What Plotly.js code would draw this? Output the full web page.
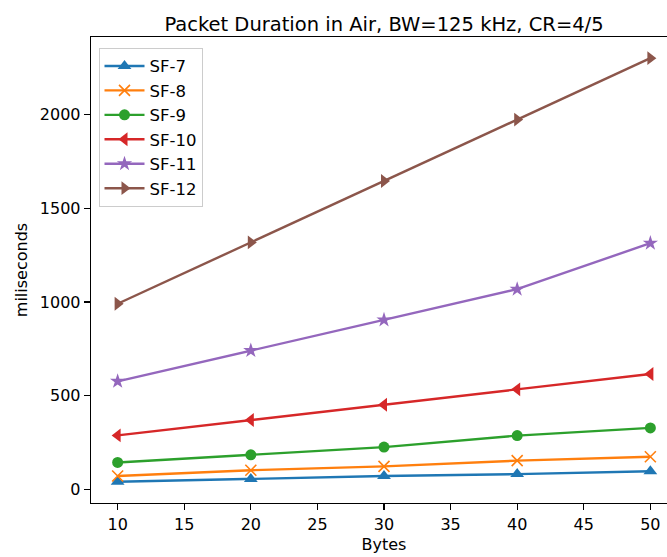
<!DOCTYPE html>
<html>
<head>
<meta charset="utf-8">
<script src="https://cdn.plot.ly/plotly-3.0.1.min.js"></script>
<style>
html,body{margin:0;padding:0;overflow:hidden;background:#fff;}
#chart{width:720px;height:557px;}
</style>
</head>
<body>
<div id="chart"></div>
<script>
const bytes = [10, 20, 30, 40, 50];
const sf7 = [41.2, 56.6, 71.9, 82.2, 97.5];
const sf8 = [72.2, 102.9, 123.4, 154.1, 174.6];
const sf9 = [144.4, 185.3, 226.3, 287.7, 328.7];
const sf10 = [288.8, 370.7, 452.6, 534.5, 616.4];
const sf11 = [577.5, 741.4, 905.2, 1069.1, 1314.8];
const sf12 = [991.2, 1318.9, 1646.6, 1974.3, 2302.0];
const names = ["SF-7", "SF-8", "SF-9", "SF-10", "SF-11", "SF-12"];
const series = [sf7, sf8, sf9, sf10, sf11, sf12];
const colors = ["#1f77b4", "#ff7f0e", "#2ca02c", "#d62728", "#9467bd", "#8c564b"];
const symbols = ["triangle-up", "x-thin-open", "circle", "triangle-left", "star", "triangle-right"];
const sizes = [12, 11, 11, 12, 11.5, 12];

const traces = series.map((ys, i) => ({
  x: bytes, y: ys, name: names[i], type: "scatter", mode: "lines+markers",
  line: {color: colors[i], width: 2.4},
  marker: {symbol: symbols[i], size: sizes[i], color: colors[i],
           line: {color: colors[i], width: symbols[i] === "x-thin-open" ? 1.6 : 0}}
}));

const layout = {
  width: 720, height: 557,
  margin: {l: 91, r: 43, t: 37, b: 53.5, pad: 0},
  paper_bgcolor: "#fff", plot_bgcolor: "#fff",
  font: {family: "DejaVu Sans", size: 16, color: "#000"},
  title: {text: "Packet Duration in Air, BW=125 kHz, CR=4/5", x: 0.5, xref: "paper",
          y: 1, yref: "paper", yanchor: "bottom", pad: {b: 6},
          font: {family: "DejaVu Sans", size: 19.5, color: "#000"}},
  xaxis: {range: [8, 52], tickvals: [10, 15, 20, 25, 30, 35, 40, 45, 50],
          ticks: "outside", ticklen: 6, tickwidth: 1.3, tickcolor: "#000",
          showline: true, linecolor: "#000", linewidth: 1.3, mirror: true,
          showgrid: false, zeroline: false, tickfont: {size: 16},
          title: {text: "Bytes", standoff: 6, font: {size: 16}}},
  yaxis: {range: [-72, 2415], tickvals: [0, 500, 1000, 1500, 2000],
          ticks: "outside", ticklen: 6, tickwidth: 1.3, tickcolor: "#000",
          showline: true, linecolor: "#000", linewidth: 1.3, mirror: true,
          showgrid: false, zeroline: false, tickfont: {size: 16},
          title: {text: "miliseconds", standoff: 8, font: {size: 16}}},
  legend: {x: 0.0128, y: 0.977, xanchor: "left", yanchor: "top",
           bgcolor: "rgba(255,255,255,0.8)", bordercolor: "#cccccc", borderwidth: 1,
           font: {size: 16.5}, itemwidth: 40, tracegroupgap: 0},
  showlegend: true
};

Plotly.newPlot("chart", traces, layout, {displayModeBar: false, staticPlot: true});
</script>
</body>
</html>
